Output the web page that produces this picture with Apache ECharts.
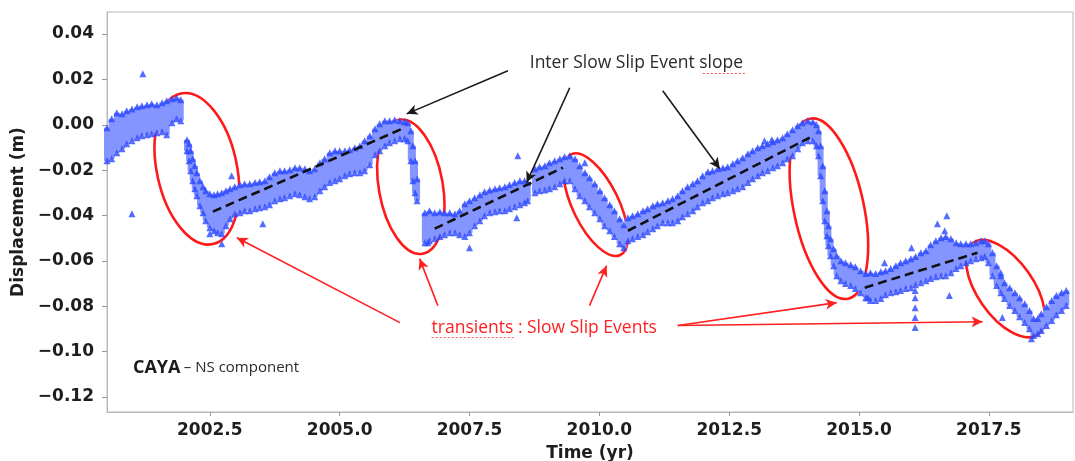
<!DOCTYPE html>
<html>
<head>
<meta charset="utf-8">
<script src="https://cdn.jsdelivr.net/npm/echarts@6/dist/echarts.min.js"></script>
<style>
html,body{margin:0;padding:0;background:#fff;}
#tu_1{width:1075px;height:461px;}
</style>
</head>
<body>
<div id="tu_1"></div>
<script>
// CAYA NS component, band of daily positions: [year, top of band, bottom of band] (m)
var band = [
	[2000.52,-0.0013,-0.0159],[2000.61,0.0026,-0.0150],[2000.71,0.0053,-0.0123],[2000.81,0.0048,-0.0106],
	[2000.90,0.0062,-0.0084],[2001.00,0.0070,-0.0070],[2001.10,0.0079,-0.0057],[2001.19,0.0084,-0.0048],
	[2001.29,0.0088,-0.0044],[2001.38,0.0093,-0.0040],[2001.48,0.0088,-0.0035],[2001.58,0.0097,-0.0031],
	[2001.67,0.0106,-0.0044],[2001.77,0.0115,0.0009],[2001.86,0.0119,0.0026],[2001.94,0.0110,0.0018],
	// SSE 2002
	[2002.06,-0.0066,-0.0115],[2002.10,-0.0084,-0.0159],[2002.13,-0.0115,-0.0203],[2002.17,-0.0150,-0.0247],
	[2002.21,-0.0181,-0.0282],[2002.25,-0.0212,-0.0313],[2002.31,-0.0247,-0.0357],[2002.37,-0.0273,-0.0388],
	[2002.42,-0.0291,-0.0423],[2002.50,-0.0304,-0.0454],[2002.58,-0.0309,-0.0467],[2002.65,-0.0304,-0.0476],
	[2002.73,-0.0300,-0.0480],[2002.81,-0.0291,-0.0445],[2002.89,-0.0282,-0.0414],[2002.98,-0.0273,-0.0392],
	[2003.08,-0.0264,-0.0388],[2003.17,-0.0260,-0.0379],[2003.27,-0.0260,-0.0379],[2003.37,-0.0255,-0.0370],
	[2003.46,-0.0251,-0.0366],[2003.56,-0.0247,-0.0361],[2003.65,-0.0229,-0.0352],[2003.75,-0.0212,-0.0335],
	[2003.85,-0.0203,-0.0326],[2003.94,-0.0203,-0.0322],[2004.04,-0.0198,-0.0313],[2004.14,-0.0189,-0.0304],
	[2004.23,-0.0189,-0.0309],[2004.33,-0.0194,-0.0317],[2004.42,-0.0203,-0.0326],[2004.52,-0.0194,-0.0317],
	[2004.62,-0.0167,-0.0291],[2004.71,-0.0150,-0.0273],[2004.81,-0.0123,-0.0255],[2004.91,-0.0115,-0.0247],
	[2005.00,-0.0115,-0.0238],[2005.10,-0.0115,-0.0225],[2005.19,-0.0110,-0.0216],[2005.29,-0.0101,-0.0212],
	[2005.39,-0.0093,-0.0212],[2005.48,-0.0070,-0.0203],[2005.58,-0.0048,-0.0176],[2005.68,-0.0018,-0.0132],
	[2005.77,0.0004,-0.0115],[2005.87,0.0018,-0.0093],[2005.96,0.0018,-0.0079],[2006.06,0.0022,-0.0070],
	[2006.16,0.0018,-0.0062],[2006.25,0.0013,-0.0062],
	// SSE 2006
	[2006.31,0.0009,-0.0070],[2006.37,-0.0026,-0.0159],[2006.41,-0.0093,-0.0247],[2006.45,-0.0159,-0.0300],
	[2006.49,-0.0238,-0.0335],
	[2006.64,-0.0388,-0.0520],[2006.73,-0.0379,-0.0511],[2006.83,-0.0388,-0.0502],[2006.93,-0.0383,-0.0493],
	[2007.02,-0.0388,-0.0485],[2007.12,-0.0388,-0.0476],[2007.22,-0.0392,-0.0476],[2007.31,-0.0379,-0.0485],
	[2007.41,-0.0348,-0.0493],[2007.50,-0.0335,-0.0476],[2007.60,-0.0322,-0.0445],[2007.70,-0.0309,-0.0423],
	[2007.79,-0.0295,-0.0401],[2007.89,-0.0287,-0.0388],[2007.99,-0.0282,-0.0383],[2008.08,-0.0278,-0.0379],
	[2008.18,-0.0273,-0.0379],[2008.27,-0.0264,-0.0370],[2008.37,-0.0255,-0.0361],[2008.47,-0.0247,-0.0352],
	[2008.56,-0.0247,-0.0344],[2008.62,-0.0255,-0.0335],
	[2008.76,-0.0194,-0.0300],[2008.85,-0.0185,-0.0291],[2008.95,-0.0181,-0.0287],[2009.04,-0.0167,-0.0282],
	[2009.14,-0.0159,-0.0273],[2009.24,-0.0150,-0.0260],[2009.33,-0.0141,-0.0247],[2009.43,-0.0137,-0.0247],
	// SSE 2009-2010
	[2009.53,-0.0150,-0.0282],[2009.62,-0.0181,-0.0313],[2009.72,-0.0211,-0.0335],[2009.81,-0.0233,-0.0361],
	[2009.91,-0.0260,-0.0388],[2010.01,-0.0291,-0.0414],[2010.10,-0.0322,-0.0445],[2010.20,-0.0352,-0.0467],
	[2010.29,-0.0379,-0.0493],[2010.39,-0.0414,-0.0524],[2010.47,-0.0441,-0.0542],
	[2010.55,-0.0410,-0.0511],[2010.64,-0.0401,-0.0502],[2010.74,-0.0392,-0.0493],[2010.84,-0.0379,-0.0485],
	[2010.93,-0.0370,-0.0471],[2011.03,-0.0357,-0.0458],[2011.12,-0.0348,-0.0445],[2011.22,-0.0344,-0.0432],
	[2011.32,-0.0335,-0.0432],[2011.41,-0.0326,-0.0432],[2011.51,-0.0313,-0.0423],[2011.60,-0.0291,-0.0405],
	[2011.70,-0.0273,-0.0392],[2011.80,-0.0260,-0.0379],[2011.89,-0.0247,-0.0361],[2011.99,-0.0225,-0.0344],
	[2012.09,-0.0207,-0.0335],[2012.18,-0.0203,-0.0322],[2012.28,-0.0194,-0.0313],[2012.38,-0.0189,-0.0304],
	[2012.47,-0.0185,-0.0300],[2012.57,-0.0172,-0.0291],[2012.66,-0.0159,-0.0282],[2012.76,-0.0145,-0.0273],
	[2012.86,-0.0128,-0.0255],[2012.95,-0.0115,-0.0238],[2013.05,-0.0101,-0.0225],[2013.14,-0.0093,-0.0212],
	[2013.24,-0.0084,-0.0203],[2013.34,-0.0075,-0.0189],[2013.43,-0.0066,-0.0181],[2013.53,-0.0057,-0.0167],
	[2013.62,-0.0040,-0.0150],[2013.72,-0.0022,-0.0137],[2013.82,-0.0004,-0.0106],[2013.91,0.0009,-0.0079],
	[2014.01,0.0018,-0.0070],[2014.11,0.0013,-0.0070],[2014.18,0.0000,-0.0093],
	// SSE 2014
	[2014.22,-0.0026,-0.0137],[2014.26,-0.0093,-0.0225],[2014.30,-0.0181,-0.0335],[2014.34,-0.0291,-0.0423],
	[2014.38,-0.0379,-0.0489],[2014.41,-0.0445,-0.0533],[2014.45,-0.0502,-0.0577],[2014.51,-0.0546,-0.0621],
	[2014.57,-0.0577,-0.0665],[2014.65,-0.0599,-0.0687],[2014.74,-0.0608,-0.0700],[2014.84,-0.0617,-0.0709],
	[2014.93,-0.0626,-0.0722],[2015.03,-0.0643,-0.0740],[2015.13,-0.0656,-0.0762],
	[2015.22,-0.0652,-0.0775],[2015.32,-0.0656,-0.0775],[2015.42,-0.0648,-0.0766],[2015.51,-0.0643,-0.0749],
	[2015.61,-0.0634,-0.0740],[2015.71,-0.0621,-0.0736],[2015.80,-0.0608,-0.0731],[2015.90,-0.0599,-0.0722],
	[2016.00,-0.0590,-0.0718],[2016.09,-0.0581,-0.0705],[2016.19,-0.0564,-0.0696],[2016.29,-0.0555,-0.0687],
	[2016.38,-0.0529,-0.0678],[2016.48,-0.0511,-0.0670],[2016.58,-0.0498,-0.0665],[2016.67,-0.0493,-0.0665],
	[2016.77,-0.0502,-0.0652],[2016.87,-0.0520,-0.0634],[2016.96,-0.0524,-0.0621],[2017.06,-0.0524,-0.0608],
	[2017.15,-0.0524,-0.0599],[2017.25,-0.0520,-0.0590],[2017.35,-0.0511,-0.0586],[2017.42,-0.0511,-0.0581],
	// SSE 2017-2018
	[2017.49,-0.0524,-0.0608],[2017.57,-0.0564,-0.0665],[2017.65,-0.0621,-0.0709],[2017.73,-0.0665,-0.0740],
	[2017.80,-0.0696,-0.0766],[2017.90,-0.0718,-0.0797],[2018.00,-0.0740,-0.0819],[2018.09,-0.0762,-0.0846],
	[2018.19,-0.0789,-0.0872],[2018.28,-0.0819,-0.0899],[2018.36,-0.0854,-0.0929],[2018.44,-0.0854,-0.0921],
	[2018.51,-0.0833,-0.0907],[2018.61,-0.0802,-0.0885],[2018.71,-0.0775,-0.0863],[2018.80,-0.0753,-0.0837],
	[2018.90,-0.0740,-0.0819],[2018.99,-0.0731,-0.0797]
];
// isolated points away from the band
var outliers = [
	[2001.21,0.0225],[2001.00,-0.0392],[2002.92,-0.0225],[2003.52,-0.0436],[2002.73,-0.0524],[2002.50,-0.0480],
	[2006.70,-0.0520],[2007.50,-0.0542],[2008.43,-0.0137],[2008.41,-0.0410],[2009.72,-0.0167],
	[2013.18,-0.0070],[2013.32,-0.0066],[2015.17,-0.0762],[2015.49,-0.0608],[2016.01,-0.0542],
	[2016.08,-0.0731],[2016.08,-0.0762],[2016.08,-0.0806],[2016.08,-0.0850],[2016.08,-0.0894],
	[2016.51,-0.0436],[2016.69,-0.0401],[2016.65,-0.0467],[2016.74,-0.0753],
	[2017.73,-0.0652],[2017.76,-0.0850],[2018.32,-0.0943]
];
// inter slow slip event slopes (dashed)
var slopes = [
	[[2002.56,-0.0383],[2006.20,-0.0018]],
	[[2006.83,-0.0458],[2009.30,-0.0189]],
	[[2010.55,-0.0467],[2014.05,-0.0057]],
	[[2015.11,-0.0718],[2017.28,-0.0564]]
];
var xTicks = [2002.5, 2005.0, 2007.5, 2010.0, 2012.5, 2015.0, 2017.5];
var yTicks = [-0.12, -0.10, -0.08, -0.06, -0.04, -0.02, 0.00, 0.02, 0.04];
// slow slip events (ellipse centres)
var sseCentres = [[2002.25,-0.0194],[2006.37,-0.0273],[2009.93,-0.0352],[2014.42,-0.0370],[2017.82,-0.0722]];
// annotation arrows [from, to]
var blackArrows = [
	[[2008.24,0.0238],[2006.29,0.0048]],
	[[2009.43,0.0163],[2008.60,-0.0255]],
	[[2011.22,0.0150],[2012.32,-0.0194]]
];
var redArrows = [
	[[2006.16,-0.0872],[2003.02,-0.0498]],
	[[2006.89,-0.0797],[2006.54,-0.0590]],
	[[2009.81,-0.0797],[2010.14,-0.0621]],
	[[2011.51,-0.0885],[2014.57,-0.0784]],
	[[2011.51,-0.0885],[2017.38,-0.0868]]
];

var tickFont = {fontFamily:'DejaVu Sans', fontWeight:'bold', fontSize:17, color:'#1e1e1e'};
var blue = '#2b47ff';
var myChart_1 = echarts.init(document.getElementById('tu_1'));

var series = [];
// light fill of the dense band
series.push({
	type:'custom',
	data: band,
	encode:{x:0, y:[1,2]},
	silent:true,
	renderItem:function(params, api){
		var a = api.coord([api.value(0), api.value(1)]);
		var b = api.coord([api.value(0), api.value(2)]);
		return {type:'rect', shape:{x:a[0]-3, y:a[1], width:6, height:b[1]-a[1]}, style:{fill:'#8595ff'}};
	}
});
series.push({
	type:'scatter', symbol:'triangle', symbolSize:7, silent:true,
	itemStyle:{color:blue},
	data: band.map(function(r){return [r[0], r[1]];}).concat(band.map(function(r){return [r[0], r[2]];})).concat(outliers)
});
for(var i=0;i<slopes.length;i++){
	series.push({
		type:'line', data:slopes[i], symbol:'none', silent:true,
		lineStyle:{color:'#111', width:2.6, type:[9,5]}
	});
}
function arrowLines(list, color){
	return {
		silent:true, symbol:['none','arrow'], symbolSize:[8,11], label:{show:false},
		lineStyle:{color:color, width:1.6, type:'solid'},
		data: list.map(function(a){return [{coord:a[0]},{coord:a[1]}];})
	};
}
series.push({type:'scatter', data:[], markLine:arrowLines(blackArrows, '#1a1a1a')});
series.push({type:'scatter', data:[], markLine:arrowLines(redArrows, '#ff2020')});

var option = {
	animation:false,
	backgroundColor:'#fff',
	grid:{left:107, right:2, top:12, bottom:49, show:true, borderColor:'#b8b8b8', borderWidth:1, outerBoundsMode:'none'},
	xAxis:{
		type:'value', min:2000.52, max:2019.12,
		name:'Time (yr)', nameLocation:'middle', nameGap:33,
		nameTextStyle:tickFont,
		axisLine:{show:true, onZero:false, lineStyle:{color:'#b8b8b8'}},
		axisTick:{show:true, length:4, customValues:xTicks, lineStyle:{color:'#999'}},
		axisLabel:Object.assign({customValues:xTicks, margin:10, formatter:function(v){return v.toFixed(1);}}, tickFont),
		splitLine:{show:false}
	},
	yAxis:{
		type:'value', min:-0.1266, max:0.0497,
		name:'Displacement (m)', nameLocation:'middle', nameGap:76,
		nameTextStyle:tickFont,
		axisLine:{show:true, onZero:false, lineStyle:{color:'#b8b8b8'}},
		axisTick:{show:true, length:5, customValues:yTicks, lineStyle:{color:'#999'}},
		axisLabel:Object.assign({customValues:yTicks, margin:13, formatter:function(v){
			return (v < -1e-9 ? '\u2212' : '') + Math.abs(v).toFixed(2);
		}}, tickFont),
		splitLine:{show:false}
	},
	series:series
};
myChart_1.setOption(option);

// annotations placed from data coordinates
function px(p){ return myChart_1.convertToPixel({gridIndex:0}, p); }
var ellipseShape = [[40,77,12],[32,68,10],[23,56,26],[35,92,12],[28,56,35]];
var graphics = [];
for(var k=0;k<sseCentres.length;k++){
	var c = px(sseCentres[k]);
	graphics.push({
		type:'ellipse', x:c[0], y:c[1], rotation:ellipseShape[k][2]*Math.PI/180,
		shape:{cx:0, cy:0, rx:ellipseShape[k][0], ry:ellipseShape[k][1]},
		style:{fill:null, stroke:'#ff1a1a', lineWidth:2.6}, silent:true
	});
}
var p1 = px([2008.66, 0.0270]);
graphics.push({type:'text', x:p1[0], y:p1[1], silent:true,
	style:{text:'Inter Slow Slip Event slope', font:'17.5px "Open Sans"', fill:'#2a2a2a', textVerticalAlign:'middle'}});
// spell-check squiggle under "slope"
graphics.push({type:'line', silent:true, shape:{x1:p1[0]+173, y1:p1[1]+10, x2:p1[0]+215, y2:p1[1]+10},
	style:{stroke:'#ee5555', lineWidth:1, lineDash:[2,2]}});
var p2 = px([2006.77, -0.0894]);
graphics.push({type:'text', x:p2[0], y:p2[1], silent:true,
	style:{text:'transients : Slow Slip Events', font:'17.5px "Open Sans"', fill:'#ff2020', textVerticalAlign:'middle'}});
graphics.push({type:'line', silent:true, shape:{x1:p2[0], y1:p2[1]+10, x2:p2[0]+82, y2:p2[1]+10},
	style:{stroke:'#ee5555', lineWidth:1, lineDash:[2,2]}});
var p3 = px([2001.02, -0.1070]);
graphics.push({type:'text', x:p3[0], y:p3[1], silent:true,
	style:{text:'{a|CAYA} {b|\u2013 NS component}', textVerticalAlign:'middle',
		rich:{a:{fontFamily:'Open Sans', fontWeight:'bold', fontSize:18, fill:'#1a1a1a'}, b:{fontFamily:'Open Sans', fontSize:15, fill:'#2a2a2a'}}}});
myChart_1.setOption({graphic:graphics});

window.onresize=function(){ if(myChart_1){ myChart_1.resize(); } };
</script>
</body>
</html>
